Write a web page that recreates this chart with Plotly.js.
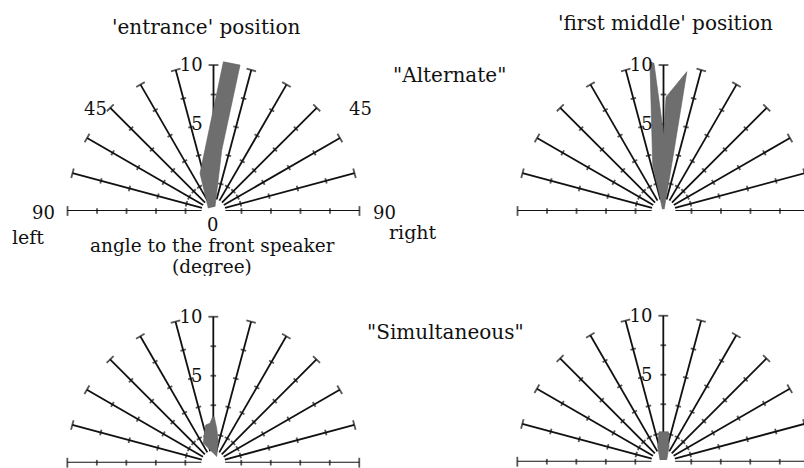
<!DOCTYPE html>
<html>
<head>
<meta charset="utf-8">
<script src="https://cdn.plot.ly/plotly-3.0.1.min.js"></script>
<style>html,body{margin:0;padding:0;overflow:hidden;background:#fff}</style>
</head>
<body>
<div id="chart"></div>
<script>
// ---- data ----
const spokeAngles = [-90,-75,-60,-45,-30,-15,0,15,30,45,60,75,90]; // degrees to the front speaker (neg = left)
const tickR = [0, 2.5, 5, 7.5, 10];
const radialTickVals = [5, 10];
const radialTickText = ['5', '10'];
const spokeInnerR = -1.36;
const spokeOuterR = 10;

// response distributions (angle, radius)
const entranceAltTheta = [-62, -19.7, 3.8, 10.3, 7.7, 19];
const entranceAltR     = [-1.87, 1.02, 10.3, 10.2, 2.84, -1.98];
const middleAltTheta   = [-30, -13.2, -5.2, -3.7, 0, 1.3, 9.5, 9.9, 20];
const middleAltR       = [-2.2, 1.63, 10.33, 10.17, 4.2, 7.3, 9.6, 2.45, -2.2];
const entranceSimTheta = [29.5, 13.4, 5.6, 1.2, -0.8, -4.8, -11.4, -17, -27.3];
const entranceSimR     = [-1.79, -0.54, 0.56, 1.5, 1.53, 0.98, 0.89, 0.23, -0.53];
const middleSimTheta   = [-63, -20.5, -8.2, 9.5, 20.8, 63];
const middleSimR       = [-2.06, -1.02, 0.19, 0.2, -1.02, -2.05];

// ---- layout geometry ----
const W = 840, H = 468;
const radialRange = [-2.37, 10.6];
const pxPerUnit = 11.8;
const R = (radialRange[1] - radialRange[0]) * pxPerUnit;
function dom(cx, cy) {
  return {x: [(cx - R) / W, (cx + R) / W], y: [1 - cy / H, 1 - (cy - R) / H]};
}
const FONT = 'DejaVu Serif';

function polarCfg(cx, cy) {
  return {
    domain: dom(cx, cy),
    sector: [0, 180],
    bgcolor: 'rgba(0,0,0,0)',
    radialaxis: {
      range: radialRange, angle: 90, side: 'counterclockwise',
      showline: false, showgrid: false,
      tickvals: radialTickVals, ticktext: radialTickText,
      ticks: 'outside', ticklen: 4, tickcolor: 'rgba(0,0,0,0)',
      tickfont: {family: FONT, size: 18, color: '#111'}, tickangle: 90
    },
    angularaxis: {
      rotation: 90, direction: 'clockwise',
      showline: false, showgrid: false, showticklabels: false, ticks: ''
    }
  };
}

const traces = [];
const subplots = ['polar', 'polar2', 'polar3', 'polar4'];
const bands = [
  [entranceAltTheta, entranceAltR],
  [middleAltTheta, middleAltR],
  [entranceSimTheta, entranceSimR],
  [middleSimTheta, middleSimR]
];

subplots.forEach((sp, i) => {
  const sr = [], st = [];
  spokeAngles.forEach(a => { sr.push(spokeInnerR, spokeOuterR, null); st.push(a, a, null); });
  traces.push({type: 'scatterpolar', subplot: sp, mode: 'lines', r: sr, theta: st,
    line: {color: '#111', width: 1.8}, cliponaxis: false, hoverinfo: 'skip', showlegend: false});
  const tr = [], tt = [], ta = [], ts = [];
  spokeAngles.forEach(a => tickR.forEach(r => {
    tr.push(r); tt.push(a); ta.push(a); ts.push(r === spokeOuterR ? 7 : 4);
  }));
  traces.push({type: 'scatterpolar', subplot: sp, mode: 'markers', r: tr, theta: tt,
    marker: {symbol: 'line-ew', size: ts, angle: ta, line: {color: '#111', width: 1.8}},
    cliponaxis: false, hoverinfo: 'skip', showlegend: false});
  traces.push({type: 'scatterpolar', subplot: sp, mode: 'lines', fill: 'toself',
    r: bands[i][1], theta: bands[i][0],
    fillcolor: '#6e6e6e', line: {color: '#5e5e5e', width: 0.6},
    hoverinfo: 'skip', showlegend: false});
});

function ann(text, x, y, size, opts) {
  return Object.assign({text: text, x: x / W, y: 1 - y / H, xref: 'paper', yref: 'paper',
    showarrow: false, xanchor: 'center', yanchor: 'middle',
    font: {family: FONT, size: size, color: '#111'}}, opts || {});
}

const layout = {
  width: W, height: H,
  margin: {l: 0, r: 0, t: 0, b: 0},
  paper_bgcolor: '#fff',
  showlegend: false,
  polar: polarCfg(213.5, 211),
  polar2: polarCfg(663.5, 211),
  polar3: polarCfg(213.3, 462.7),
  polar4: polarCfg(663.3, 461.7),
  annotations: [
    ann("'entrance' position", 205.5, 27, 20),
    ann("'first middle' position", 665, 23, 20),
    ann('"Alternate"', 449, 75, 20),
    ann('"Simultaneous"', 445, 332, 20),
    ann('90', 57, 213, 18, {xanchor: 'right'}),
    ann('left', 27.5, 237, 19),
    ann('90', 384, 213, 18),
    ann('right', 412.5, 232, 19),
    ann('45', 95, 108, 18),
    ann('45', 360.7, 108, 18),
    ann('0', 212, 224, 18, {height: 15}),
    ann('angle to the front speaker', 212, 245, 18.5, {height: 23}),
    ann('(degree)', 212, 266, 18.5, {height: 19})
  ]
};

Plotly.newPlot('chart', traces, layout, {staticPlot: true, displayModeBar: false});
</script>
</body>
</html>
